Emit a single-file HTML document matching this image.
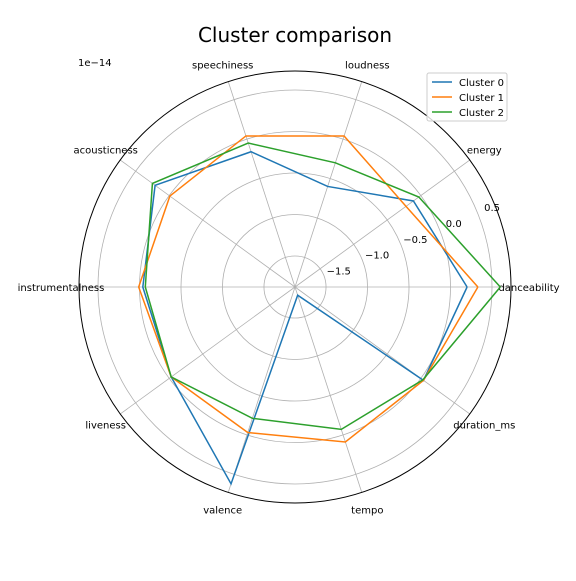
<!DOCTYPE html>
<html><head><meta charset="utf-8"><style>
body{margin:0;background:#fff}
svg{font-family:"DejaVu Sans","Liberation Sans",sans-serif}
</style></head><body>
<svg id="chart" width="576" height="576" viewBox="0 0 576 576" xmlns="http://www.w3.org/2000/svg">
<text x="295" y="42" font-size="20" text-anchor="middle">Cluster comparison</text>
<text x="78" y="66" font-size="10">1e−14</text>
<g id="grid"></g>
<g id="series"></g>
<g id="legend"></g>
</svg>
<script>
const categories=["danceability","energy","loudness","speechiness","acousticness","instrumentalness","liveness","valence","tempo","duration_ms"];
const seriesNames=["Cluster 0","Cluster 1","Cluster 2"];
const cluster0=[0.2,-0.11,-0.6,-0.16,0.21,-0.04,-0.03,0.62,-1.77,0.04];
const cluster1=[0.33,-0.22,0.04,0.04,-0.01,0.01,-0.03,-0.03,0.09,0.04];
const cluster2=[0.6,-0.03,-0.3,-0.05,0.25,-0.07,-0.03,-0.21,-0.07,0.03];
const rTicks=[-1.5,-1.0,-0.5,0.0,0.5];
const rMin=-1.874, rMax=0.729;
const colors=["#1f77b4","#ff7f0e","#2ca02c"];
const cx=295,cy=287,R=216;
const NS="http://www.w3.org/2000/svg";
function rs(v){return (v-rMin)/(rMax-rMin)*R;}
function ang(i){return i*2*Math.PI/categories.length;}
function pt(i,v){const r=rs(v),a=ang(i);return [cx+r*Math.cos(a),cy-r*Math.sin(a)];}
function mk(tag,attrs,parent){const e=document.createElementNS(NS,tag);for(const k in attrs)e.setAttribute(k,attrs[k]);parent.appendChild(e);return e;}
const grid=document.getElementById('grid');
rTicks.forEach((t,k)=>{
  const c=mk('circle',{cx:cx,cy:cy,r:rs(t),fill:'none',stroke:'#b0b0b0','stroke-width':0.8},grid);
  
  
  const a=22.5*Math.PI/180,rr=rs(t)+12;
  const l=mk('text',{x:cx+rr*Math.cos(a)+4,y:cy-rr*Math.sin(a)+4,'font-size':10,'text-anchor':'middle'},grid);
  l.textContent=(t<0?'−':'')+Math.abs(t).toFixed(1);
  
  
});
categories.forEach((c,i)=>{
  const a=ang(i);
  const ln=mk('line',{x1:cx,y1:cy,x2:cx+R*Math.cos(a),y2:cy-R*Math.sin(a),stroke:'#b0b0b0','stroke-width':0.8},grid);
  
  
  const lr=R+18;
  const tx=mk('text',{x:cx+lr*Math.cos(a),y:cy-lr*Math.sin(a)+4,'font-size':10,'text-anchor':'middle'},grid);
  tx.textContent=c;
  
  
});
const outer=mk('circle',{cx:cx,cy:cy,r:R,fill:'none',stroke:'#000','stroke-width':1},grid);


const ser=document.getElementById('series');
[cluster0,cluster1,cluster2].forEach((d,s)=>{
  const pts=d.map((v,i)=>pt(i,v));pts.push(pts[0]);
  const p=mk('polyline',{points:pts.map(q=>q.join(',')).join(' '),fill:'none',stroke:colors[s],'stroke-width':1.5},ser);
  
  
});
const lg=document.getElementById('legend');
const box=mk('rect',{x:427,y:73,width:80,height:48,rx:2,fill:'#fff','fill-opacity':0.8,stroke:'#ccc'},lg);


seriesNames.forEach((n,s)=>{
  const y=82+s*15;
  const l=mk('line',{x1:432,y1:y,x2:452,y2:y,stroke:colors[s],'stroke-width':1.5},lg);
  
  
  const t=mk('text',{x:459,y:y+4,'font-size':10},lg);
  t.textContent=n;
  
  
});
</script>
</body></html>
